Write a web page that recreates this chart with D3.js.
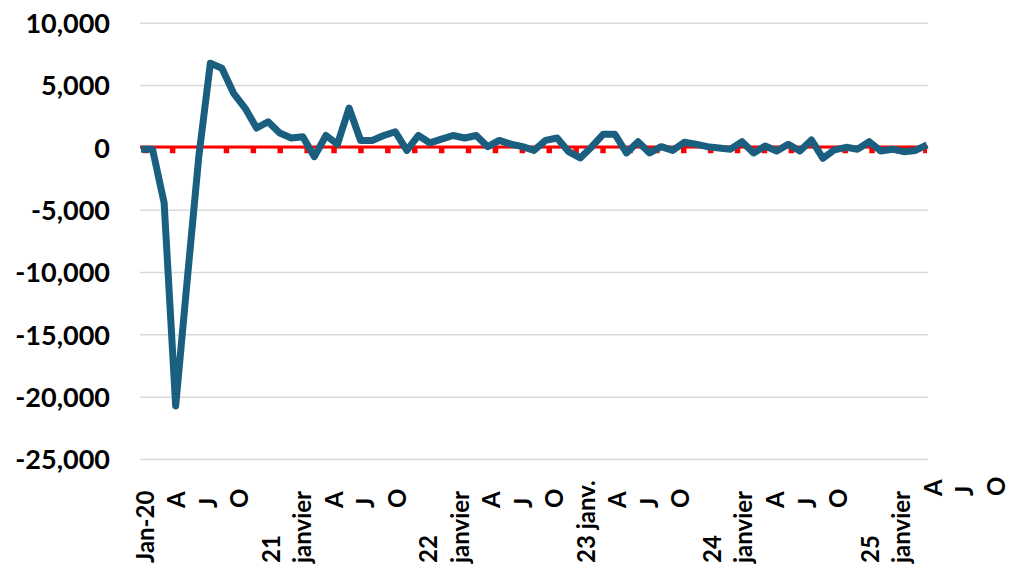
<!DOCTYPE html>
<html>
<head>
<meta charset="utf-8">
<script src="https://cdn.jsdelivr.net/npm/d3@7"></script>
<style>
  html, body { margin: 0; padding: 0; background: #ffffff; }
  svg { display: block; }
  text { font-family: Lato, "Open Sans", sans-serif; font-weight: 700; fill: #000; }
</style>
</head>
<body>
<svg id="chart" width="1009" height="569"></svg>
<script>
// ---- data ----
const months = [
  "2020-01","2020-02","2020-03","2020-04","2020-05","2020-06","2020-07","2020-08","2020-09","2020-10","2020-11","2020-12",
  "2021-01","2021-02","2021-03","2021-04","2021-05","2021-06","2021-07","2021-08","2021-09","2021-10","2021-11","2021-12",
  "2022-01","2022-02","2022-03","2022-04","2022-05","2022-06","2022-07","2022-08","2022-09","2022-10","2022-11","2022-12",
  "2023-01","2023-02","2023-03","2023-04","2023-05","2023-06","2023-07","2023-08","2023-09","2023-10","2023-11","2023-12",
  "2024-01","2024-02","2024-03","2024-04","2024-05","2024-06","2024-07","2024-08","2024-09","2024-10","2024-11","2024-12",
  "2025-01","2025-02","2025-03","2025-04","2025-05","2025-06","2025-07","2025-08","2025-09"
];
const changeValues = [
  -100, -100, -4400, -20700, -10600, -700, 6800, 6400, 4400, 3200, 1600, 2100,
  1200, 800, 900, -700, 1000, 300, 3200, 600, 600, 1000, 1300, -200,
  1000, 400, 700, 1000, 800, 1000, 100, 600, 300, 100, -200, 600,
  800, -300, -800, 100, 1100, 1100, -400, 500, -400, 100, -200, 450,
  300, 100, 0, -100, 500, -400, 150, -250, 300, -250, 640, -830,
  -150, 50, -100, 500, -250, -100, -300, -200, 240
];
const zeroValues = months.map(() => 0);
const yTicks = [10000, 5000, 0, -5000, -10000, -15000, -20000, -25000];
const tickLabels = ["Jan-20","A","J","O","21","janvier","A","J","O","22","janvier","A","J","O",
  "23 janv.","A","J","O","24","janvier","A","J","O","25","janvier","A","J","O"];

// ---- layout ----
const svg = d3.select("#chart");
const plotLeft = 140, plotRight = 928;

const x = d3.scalePoint().domain(months).range([141, 927]);
const y = d3.scaleLinear().domain([-25000, 10000]).range([459.5, 23.3]);
const labelX = d3.scaleLinear().domain([0, tickLabels.length - 1]).range([145, 996]);

const fmt = d3.formatLocale({decimal: ".", thousands: ",", grouping: [3], currency: ["", ""], minus: "-"}).format(",");

// gridlines
svg.append("g").selectAll("line").data(yTicks).join("line")
  .attr("x1", plotLeft).attr("x2", plotRight)
  .attr("y1", d => y(d)).attr("y2", d => y(d))
  .attr("stroke", "#d9d9d9").attr("stroke-width", 1.5);

// y axis labels
svg.append("g").selectAll("text").data(yTicks).join("text")
  .attr("x", 110).attr("y", d => y(d)).attr("dy", "0.36em")
  .attr("text-anchor", "end")
  .style("font-size", "27px")
  .text(d => fmt(d));

// red zero series: dashed part + solid part
svg.append("path").datum(zeroValues)
  .attr("d", d3.line().x((d, i) => i === 0 ? plotLeft + 3 : x(months[i])).y(d => y(d) + 2.5))
  .attr("fill", "none").attr("stroke", "#ff0000").attr("stroke-width", 5.5)
  .attr("stroke-dasharray", "5.5 21.4");
svg.append("path").datum(zeroValues)
  .attr("d", d3.line().x((d, i) => i === 0 ? plotLeft : (i === zeroValues.length - 1 ? plotRight : x(months[i]))).y(d => y(d) - 1))
  .attr("fill", "none").attr("stroke", "#ff0000").attr("stroke-width", 3);

// main series
svg.append("path").datum(changeValues)
  .attr("d", d3.line().x((d, i) => x(months[i])).y(d => y(d)))
  .attr("fill", "none").attr("stroke", "#1a5f80").attr("stroke-width", 7)
  .attr("stroke-linejoin", "round").attr("stroke-linecap", "butt");

// x axis labels (rotated)
svg.append("g").selectAll("text").data(tickLabels).join("text")
  .attr("transform", (d, i) => {
    const lx = labelX(i);
    let ly = d.length === 1 ? 508 : 563;
    if (lx > plotRight) ly -= 12;
    return `translate(${lx},${ly}) rotate(-90)`;
  })
  .attr("dy", "0.36em")
  .attr("text-anchor", "start")
  .style("font-size", "24px")
  .text(d => d);
</script>
</body>
</html>
